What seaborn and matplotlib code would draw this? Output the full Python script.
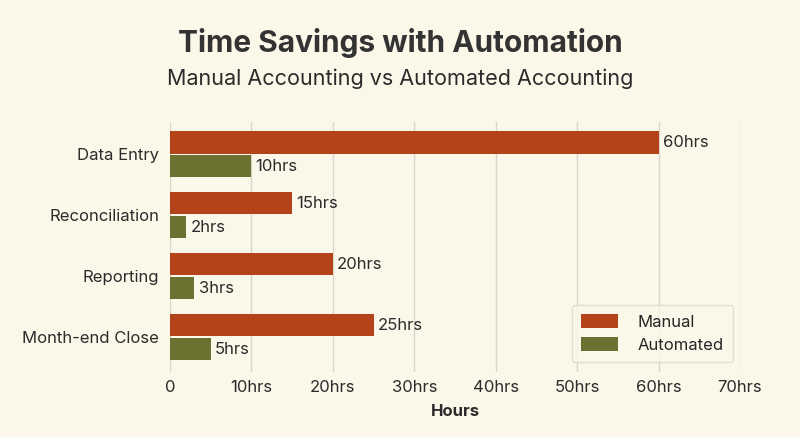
import pandas as pd
import seaborn as sns
import matplotlib.pyplot as plt

# data
tasks = ["Data Entry", "Reconciliation", "Reporting", "Month-end Close"]
manual_hours = [60, 15, 20, 25]
automated_hours = [10, 2, 3, 5]
x_ticks = [0, 10, 20, 30, 40, 50, 60, 70]
x_tick_labels = ["0", "10hrs", "20hrs", "30hrs", "40hrs", "50hrs", "60hrs", "70hrs"]

df = pd.DataFrame({
    "task": tasks * 2,
    "hours": manual_hours + automated_hours,
    "method": ["Manual"] * len(tasks) + ["Automated"] * len(tasks),
})

bg = "#FBF8E9"
sns.set_theme(style="white")
plt.rcParams['font.family'] = ['Inter', 'DejaVu Sans']

fig = plt.figure(figsize=(8, 4.37), dpi=100, facecolor=bg)
ax = fig.add_axes([0.2125, 0.149, 0.7125, 0.572])
ax.set_facecolor(bg)

sns.barplot(data=df, y="task", x="hours", hue="method", orient="h",
            palette={"Manual": "#B5431A", "Automated": "#6B7130"},
            saturation=1, width=0.78, gap=0.06, ax=ax, edgecolor="none")

for cont in ax.containers:
    ax.bar_label(cont, labels=[f"{v:g}hrs" for v in cont.datavalues],
                 padding=3, fontsize=12, color="#2b2b2b")

ax.set_xlim(0, 70)
ax.set_ylim(3.57, -0.53)
ax.set_xticks(x_ticks)
ax.set_xticklabels(x_tick_labels, fontsize=12, color="#2b2b2b")
ax.tick_params(axis="y", labelsize=12, labelcolor="#2b2b2b", length=0, pad=8)
ax.tick_params(axis="x", length=0, pad=6)
ax.grid(axis="x", color="#d9d6cb", linewidth=1)
ax.set_axisbelow(True)
for s in ax.spines.values():
    s.set_visible(False)
ax.set_ylabel("")
ax.set_xlabel("Hours", fontsize=12, fontweight="bold", color="#2b2b2b", labelpad=6)

leg = ax.legend(loc="lower right", bbox_to_anchor=(0.988, 0.04), borderaxespad=0,
                fontsize=12, frameon=True, facecolor=bg, edgecolor="#dcd9cc",
                handlelength=2.2, handleheight=0.9, handletextpad=1.2,
                borderpad=0.55, labelspacing=0.45)
leg.get_frame().set_linewidth(1)

fig.text(0.5, 0.902, "Time Savings with Automation", ha="center", va="center",
         fontsize=21.5, fontweight="bold", color="#333333")
fig.text(0.5, 0.82, "Manual Accounting vs Automated Accounting", ha="center",
         va="center", fontsize=15.5, color="#2b2b2b")

fig.savefig("out.png", dpi=100, facecolor=bg)
